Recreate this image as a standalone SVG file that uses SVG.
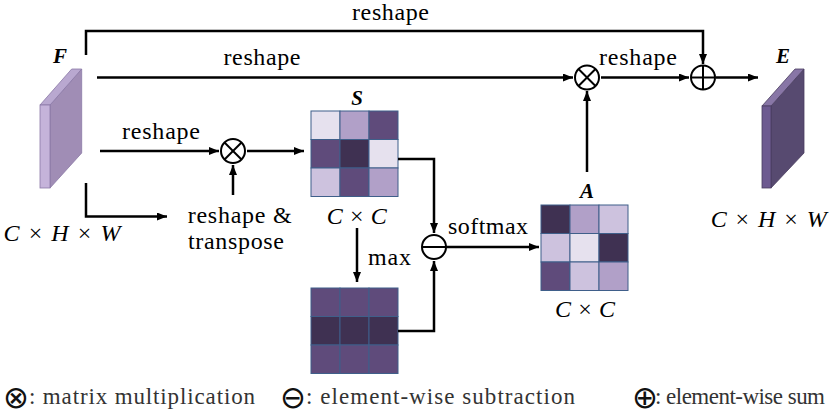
<svg xmlns="http://www.w3.org/2000/svg" width="830" height="415" viewBox="0 0 830 415">
<style>
.conn path{fill:none;stroke:#000;stroke-width:2.5}
.op{fill:#fff;stroke:#000;stroke-width:2}
.opl{stroke:#000;stroke-width:2}
.cell{stroke:#3f5f8a;stroke-width:1}
.c1{fill:#e6e1ee}.c2{fill:#b1a0c8}.c3{fill:#5f4b7b}.c4{fill:#3f3152}.c5{fill:#cdc2de}
</style>
<defs>
<marker id="ah" viewBox="0 0 10 8" refX="10" refY="4" markerWidth="10" markerHeight="8" markerUnits="userSpaceOnUse" orient="auto">
<path d="M0,0 L10,4 L0,8 z" fill="#000"/>
</marker>
</defs>

<g id="F">
<polygon points="50,105 81.7,69 81.7,153 50,188" fill="#a08db5" stroke="#8a78a6" stroke-width="0.8"/>
<polygon points="40,105 50,105 81.7,69 71.7,69" fill="#b9a8d0" stroke="#8a78a6" stroke-width="0.8"/>
<rect x="40" y="105" width="10" height="83" fill="#c5b3da" stroke="#8a78a6" stroke-width="0.8"/>
<text font-family="Liberation Serif" font-size="21" font-weight="bold" font-style="italic" x="60" y="63" text-anchor="middle">F</text>
<text font-family="Liberation Serif" font-size="24" x="62" y="241" text-anchor="middle" textLength="117"><tspan font-style="italic">C</tspan> × <tspan font-style="italic">H</tspan> × <tspan font-style="italic">W</tspan></text>
</g>

<g id="E">
<polygon points="771,106 804,69 804,153 771,188" fill="#574a70" stroke="#4a3e60" stroke-width="0.8"/>
<polygon points="762,106 771,106 804,69 795,69" fill="#8876a6" stroke="#4a3e60" stroke-width="0.8"/>
<rect x="762" y="106" width="9" height="82" fill="#6d5a90" stroke="#4a3e60" stroke-width="0.8"/>
<text font-family="Liberation Serif" font-size="21" font-weight="bold" font-style="italic" x="783" y="63" text-anchor="middle">E</text>
<text font-family="Liberation Serif" font-size="24" x="768.7" y="227" text-anchor="middle" textLength="116"><tspan font-style="italic">C</tspan> × <tspan font-style="italic">H</tspan> × <tspan font-style="italic">W</tspan></text>
</g>

<g id="S">
<rect class="cell c1" x="311" y="111" width="29" height="28.5"/>
<rect class="cell c2" x="340" y="111" width="29" height="28.5"/>
<rect class="cell c3" x="369" y="111" width="29" height="28.5"/>
<rect class="cell c3" x="311" y="139.5" width="29" height="28.5"/>
<rect class="cell c4" x="340" y="139.5" width="29" height="28.5"/>
<rect class="cell c1" x="369" y="139.5" width="29" height="28.5"/>
<rect class="cell c5" x="311" y="168" width="29" height="28.5"/>
<rect class="cell c3" x="340" y="168" width="29" height="28.5"/>
<rect class="cell c2" x="369" y="168" width="29" height="28.5"/>
<text font-family="Liberation Serif" font-size="21" font-weight="bold" font-style="italic" x="357" y="105" text-anchor="middle">S</text>
<text font-family="Liberation Serif" font-size="24" x="356.7" y="224" text-anchor="middle" textLength="60"><tspan font-style="italic">C</tspan> × <tspan font-style="italic">C</tspan></text>
</g>

<g id="maxS">
<rect class="cell c3" x="311" y="288" width="29" height="28.5"/>
<rect class="cell c3" x="340" y="288" width="29" height="28.5"/>
<rect class="cell c3" x="369" y="288" width="29" height="28.5"/>
<rect class="cell c4" x="311" y="316.5" width="29" height="28.5"/>
<rect class="cell c4" x="340" y="316.5" width="29" height="28.5"/>
<rect class="cell c4" x="369" y="316.5" width="29" height="28.5"/>
<rect class="cell c3" x="311" y="345" width="29" height="28.5"/>
<rect class="cell c3" x="340" y="345" width="29" height="28.5"/>
<rect class="cell c3" x="369" y="345" width="29" height="28.5"/>
</g>

<g id="A">
<rect class="cell c4" x="541" y="205" width="29" height="28.5"/>
<rect class="cell c2" x="570" y="205" width="29" height="28.5"/>
<rect class="cell c5" x="599" y="205" width="29" height="28.5"/>
<rect class="cell c5" x="541" y="233.5" width="29" height="28.5"/>
<rect class="cell c1" x="570" y="233.5" width="29" height="28.5"/>
<rect class="cell c4" x="599" y="233.5" width="29" height="28.5"/>
<rect class="cell c3" x="541" y="262" width="29" height="28.5"/>
<rect class="cell c5" x="570" y="262" width="29" height="28.5"/>
<rect class="cell c2" x="599" y="262" width="29" height="28.5"/>
<text font-family="Liberation Serif" font-size="21" font-weight="bold" font-style="italic" x="587" y="198" text-anchor="middle">A</text>
<text font-family="Liberation Serif" font-size="24" x="585" y="317" text-anchor="middle" textLength="60"><tspan font-style="italic">C</tspan> × <tspan font-style="italic">C</tspan></text>
</g>

<g id="mul1">
<circle class="op" cx="233" cy="151" r="12"/>
<line class="opl" x1="224.5" y1="142.5" x2="241.5" y2="159.5"/>
<line class="opl" x1="241.5" y1="142.5" x2="224.5" y2="159.5"/>
</g>
<g id="mul2">
<circle class="op" cx="587" cy="77.5" r="12"/>
<line class="opl" x1="578.5" y1="69" x2="595.5" y2="86"/>
<line class="opl" x1="595.5" y1="69" x2="578.5" y2="86"/>
</g>
<g id="sum">
<circle class="op" cx="703" cy="77.5" r="12"/>
<line class="opl" x1="691" y1="77.5" x2="715" y2="77.5"/>
<line class="opl" x1="703" y1="65.5" x2="703" y2="89.5"/>
</g>
<g id="sub">
<circle class="op" cx="434" cy="247" r="12"/>
<line class="opl" x1="423" y1="247" x2="445" y2="247"/>
</g>

<g id="connectors" class="conn">
<path d="M86,55 V31 H703 V64" marker-end="url(#ah)"/>
<path d="M97,77.5 H573" marker-end="url(#ah)"/>
<path d="M601,77.5 H689" marker-end="url(#ah)"/>
<path d="M716,77.5 H758" marker-end="url(#ah)"/>
<path d="M587,172 V91" marker-end="url(#ah)"/>
<path d="M100,151 H219" marker-end="url(#ah)"/>
<path d="M247,151 H304" marker-end="url(#ah)"/>
<path d="M86,183 V216.5 H167" marker-end="url(#ah)"/>
<path d="M233,195 V165" marker-end="url(#ah)"/>
<path d="M398,159 H434 V233" marker-end="url(#ah)"/>
<path d="M357,228 V282" marker-end="url(#ah)"/>
<path d="M398,331 H434 V261" marker-end="url(#ah)"/>
<path d="M446,247 H539" marker-end="url(#ah)"/>
</g>

<g id="labels" font-family="Liberation Serif" font-size="24" fill="#000">
<text x="390.5" y="20" text-anchor="middle" textLength="77">reshape</text>
<text x="262" y="65" text-anchor="middle" textLength="77">reshape</text>
<text x="638" y="65" text-anchor="middle" textLength="78">reshape</text>
<text x="161" y="139" text-anchor="middle" textLength="78">reshape</text>
<text x="239.7" y="223" text-anchor="middle" textLength="104">reshape &amp;</text>
<text x="236" y="249" text-anchor="middle" textLength="96">transpose</text>
<text x="389.5" y="265" text-anchor="middle" textLength="43">max</text>
<text x="488" y="234" text-anchor="middle" textLength="80">softmax</text>
</g>

<g id="legend" font-family="Liberation Serif" font-size="23" fill="#333">
<text x="16" y="408" text-anchor="middle" font-family="DejaVu Sans" font-size="31" fill="#111">⊗</text>
<text x="29" y="404" textLength="226">: matrix multiplication</text>
<text x="293" y="408" text-anchor="middle" font-family="DejaVu Sans" font-size="31" fill="#111">⊖</text>
<text x="306" y="404" textLength="269">: element-wise subtraction</text>
<text x="645" y="408" text-anchor="middle" font-family="DejaVu Sans" font-size="31" fill="#111">⊕</text>
<text x="655" y="404" textLength="170">: element-wise sum</text>
</g>
</svg>
